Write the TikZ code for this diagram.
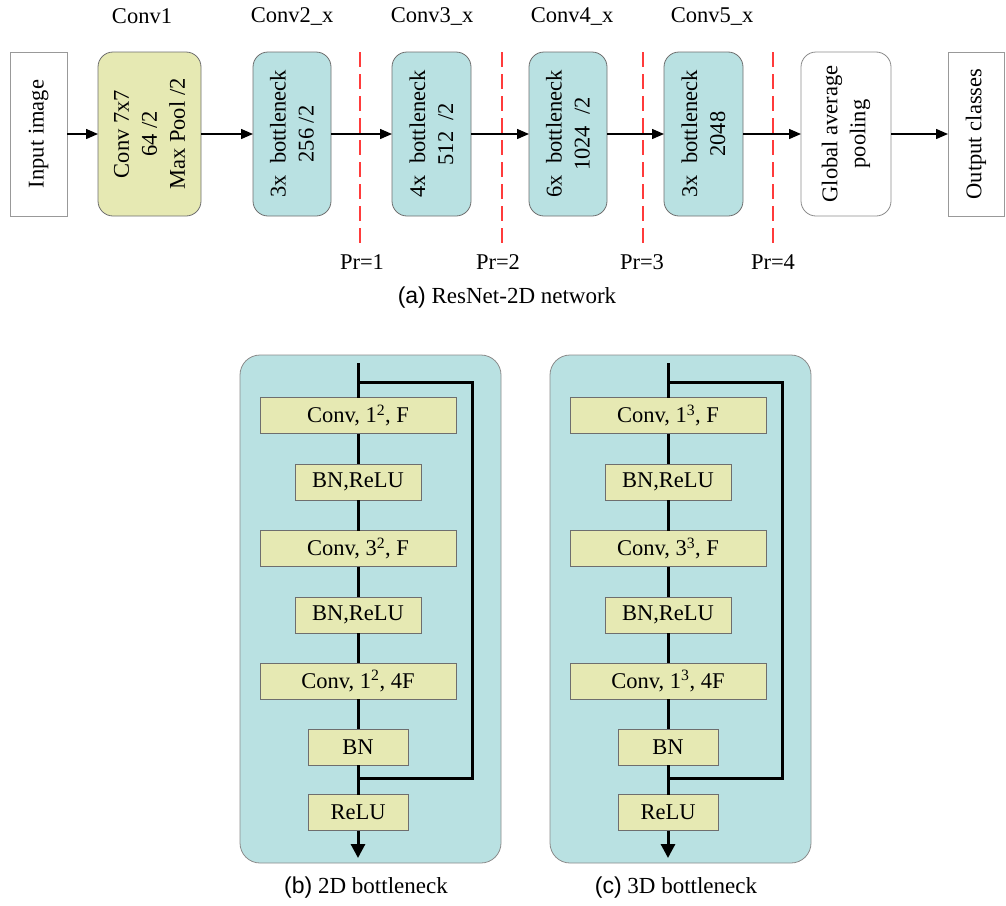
\documentclass[tikz,border=0pt]{standalone}
\usepackage{fontspec}
\setmainfont{Liberation Serif}
\newfontfamily\capsans{Liberation Sans}
\usetikzlibrary{arrows.meta}
\definecolor{ylw}{HTML}{E6E9B3}
\definecolor{cyn}{HTML}{B9E1E2}
\definecolor{bord}{HTML}{6E6E6E}
\definecolor{redd}{HTML}{FF3B3B}
\begin{document}
\begin{tikzpicture}[x=1pt,y=-1pt,
  every node/.style={inner sep=0pt,outer sep=0pt},
  txt/.style={font=\fontsize{22.5}{28}\selectfont},
  captxt/.style={font=\fontsize{23}{27}\selectfont},
  plainbox/.style={draw=bord!70,line width=0.8pt,fill=white,minimum height=164pt},
  topbox/.style={draw=bord,line width=0.8pt,rounded corners=15pt,minimum height=164pt},
  vtext/.style={txt,rotate=90,align=center},
  toparrow/.style={line width=1.4pt,-{Triangle[length=12pt,width=10pt]}},
  prline/.style={draw=redd,line width=2pt,dash pattern=on 15pt off 7pt},
  panel/.style={draw=bord!80,line width=0.8pt,fill=cyn,rounded corners=20pt},
  layer/.style={draw=bord,line width=0.9pt,fill=ylw,minimum height=36pt,txt},
  flow/.style={line width=3pt},
  flowarrow/.style={line width=3pt,-{Triangle[length=14pt,width=14pt]}}
]
\useasboundingbox (0,0) rectangle (1006,905);

% ---- (a) top row ----
\node[plainbox,minimum width=57pt] (inp) at (38.5,134) {};
\node[vtext] (inpt) at (inp.center) {Input image};
\node[topbox,fill=ylw,minimum width=103pt] (c1) at (149.5,134) {};
\node[vtext] (c1t) at (c1.center) {Conv 7x7\\64 /2\\Max Pool /2};
\node[topbox,fill=cyn,minimum width=78pt] (c2) at (292,134) {};
\node[vtext] (c2t) at (c2.center) {3x\ \ bottleneck\\256 /2};
\node[topbox,fill=cyn,minimum width=79pt] (c3) at (431.5,134) {};
\node[vtext] (c3t) at (c3.center) {4x\ \ bottleneck\\512\ \ /2};
\node[topbox,fill=cyn,minimum width=78pt] (c4) at (568,134) {};
\node[vtext] (c4t) at (c4.center) {6x\ \ bottleneck\\1024\ \ /2};
\node[topbox,fill=cyn,minimum width=79pt] (c5) at (703.5,134) {};
\node[vtext] (c5t) at (c5.center) {3x\ \ bottleneck\\2048};
\node[topbox,draw=bord!80,fill=white,minimum width=90pt] (gap) at (846,134) {};
\node[vtext] (gapt) at (gap.center) {Global average\\pooling};
\node[plainbox,minimum width=56pt] (out) at (976,134) {};
\node[vtext] (outt) at (out.center) {Output classes};

\node[txt] (l1) at (142,16) {Conv1};
\node[txt] (l2) at (292,16) {Conv2\_x};
\node[txt] (l3) at (432,16) {Conv3\_x};
\node[txt] (l4) at (572,16) {Conv4\_x};
\node[txt] (l5) at (712,16) {Conv5\_x};

\draw[toparrow] (inp.east) -- (c1.west);
\draw[toparrow] (c1.east) -- (c2.west);
\draw[toparrow] (c2.east) -- (c3.west);
\draw[toparrow] (c3.east) -- (c4.west);
\draw[toparrow] (c4.east) -- (c5.west);
\draw[toparrow] (c5.east) -- (gap.west);
\draw[toparrow] (gap.east) -- (out.west);

\foreach \i/\x/\lx in {1/360/362,2/502/498,3/643/642,4/773/773}{
  \coordinate (pa\i) at (\x,52);
  \coordinate (pb\i) at (\x,247);
  \draw[prline] (pa\i) -- (pb\i);
  \node[txt] (pr\i) at (\lx,262) {Pr=\i};
}
\node[captxt] (capa) at (507,298) {{\capsans (a)} ResNet-2D network};

% ---- (b) and (c) bottlenecks ----
\foreach \p/\dx/\s/\cap in {b/0/2/2D,c/310/3/3D}{
  \begin{scope}[xshift=\dx pt]
  \node[panel,minimum width=261pt,minimum height=508pt] (\p panel) at (370.5,609) {};
  \node[layer,minimum width=196pt] (\p1) at (358,415.5) {Conv, 1\textsuperscript{\s}, F};
  \node[layer,minimum width=126pt] (\p2) at (358,482) {BN,ReLU};
  \node[layer,minimum width=196pt] (\p3) at (358,548.5) {Conv, 3\textsuperscript{\s}, F};
  \node[layer,minimum width=126pt] (\p4) at (358,615) {BN,ReLU};
  \node[layer,minimum width=196pt] (\p5) at (358,681) {Conv, 1\textsuperscript{\s}, 4F};
  \node[layer,minimum width=100pt] (\p6) at (358,747) {BN};
  \node[layer,minimum width=100pt] (\p7) at (358,812.5) {ReLU};
  \coordinate (\p top) at (358,363);
  \coordinate (\p split) at (358,382);
  \coordinate (\p sr) at (472,382);
  \coordinate (\p jr) at (472,778);
  \coordinate (\p join) at (358,778);
  \coordinate (\p end) at (358,858);
  \draw[flow] (\p top) -- (\p1.north);
  \draw[flow] (\p1.south) -- (\p2.north);
  \draw[flow] (\p2.south) -- (\p3.north);
  \draw[flow] (\p3.south) -- (\p4.north);
  \draw[flow] (\p4.south) -- (\p5.north);
  \draw[flow] (\p5.south) -- (\p6.north);
  \draw[flow] (\p6.south) -- (\p7.north);
  \draw[flow] (\p split) -- (\p sr) -- (\p jr) -- (\p join);
  \draw[flowarrow] (\p7.south) -- (\p end);
  \node[captxt] (\p cap) at (366,888) {{\capsans (\p)} \cap\ bottleneck};
  \end{scope}
}
\end{tikzpicture}
\end{document}
